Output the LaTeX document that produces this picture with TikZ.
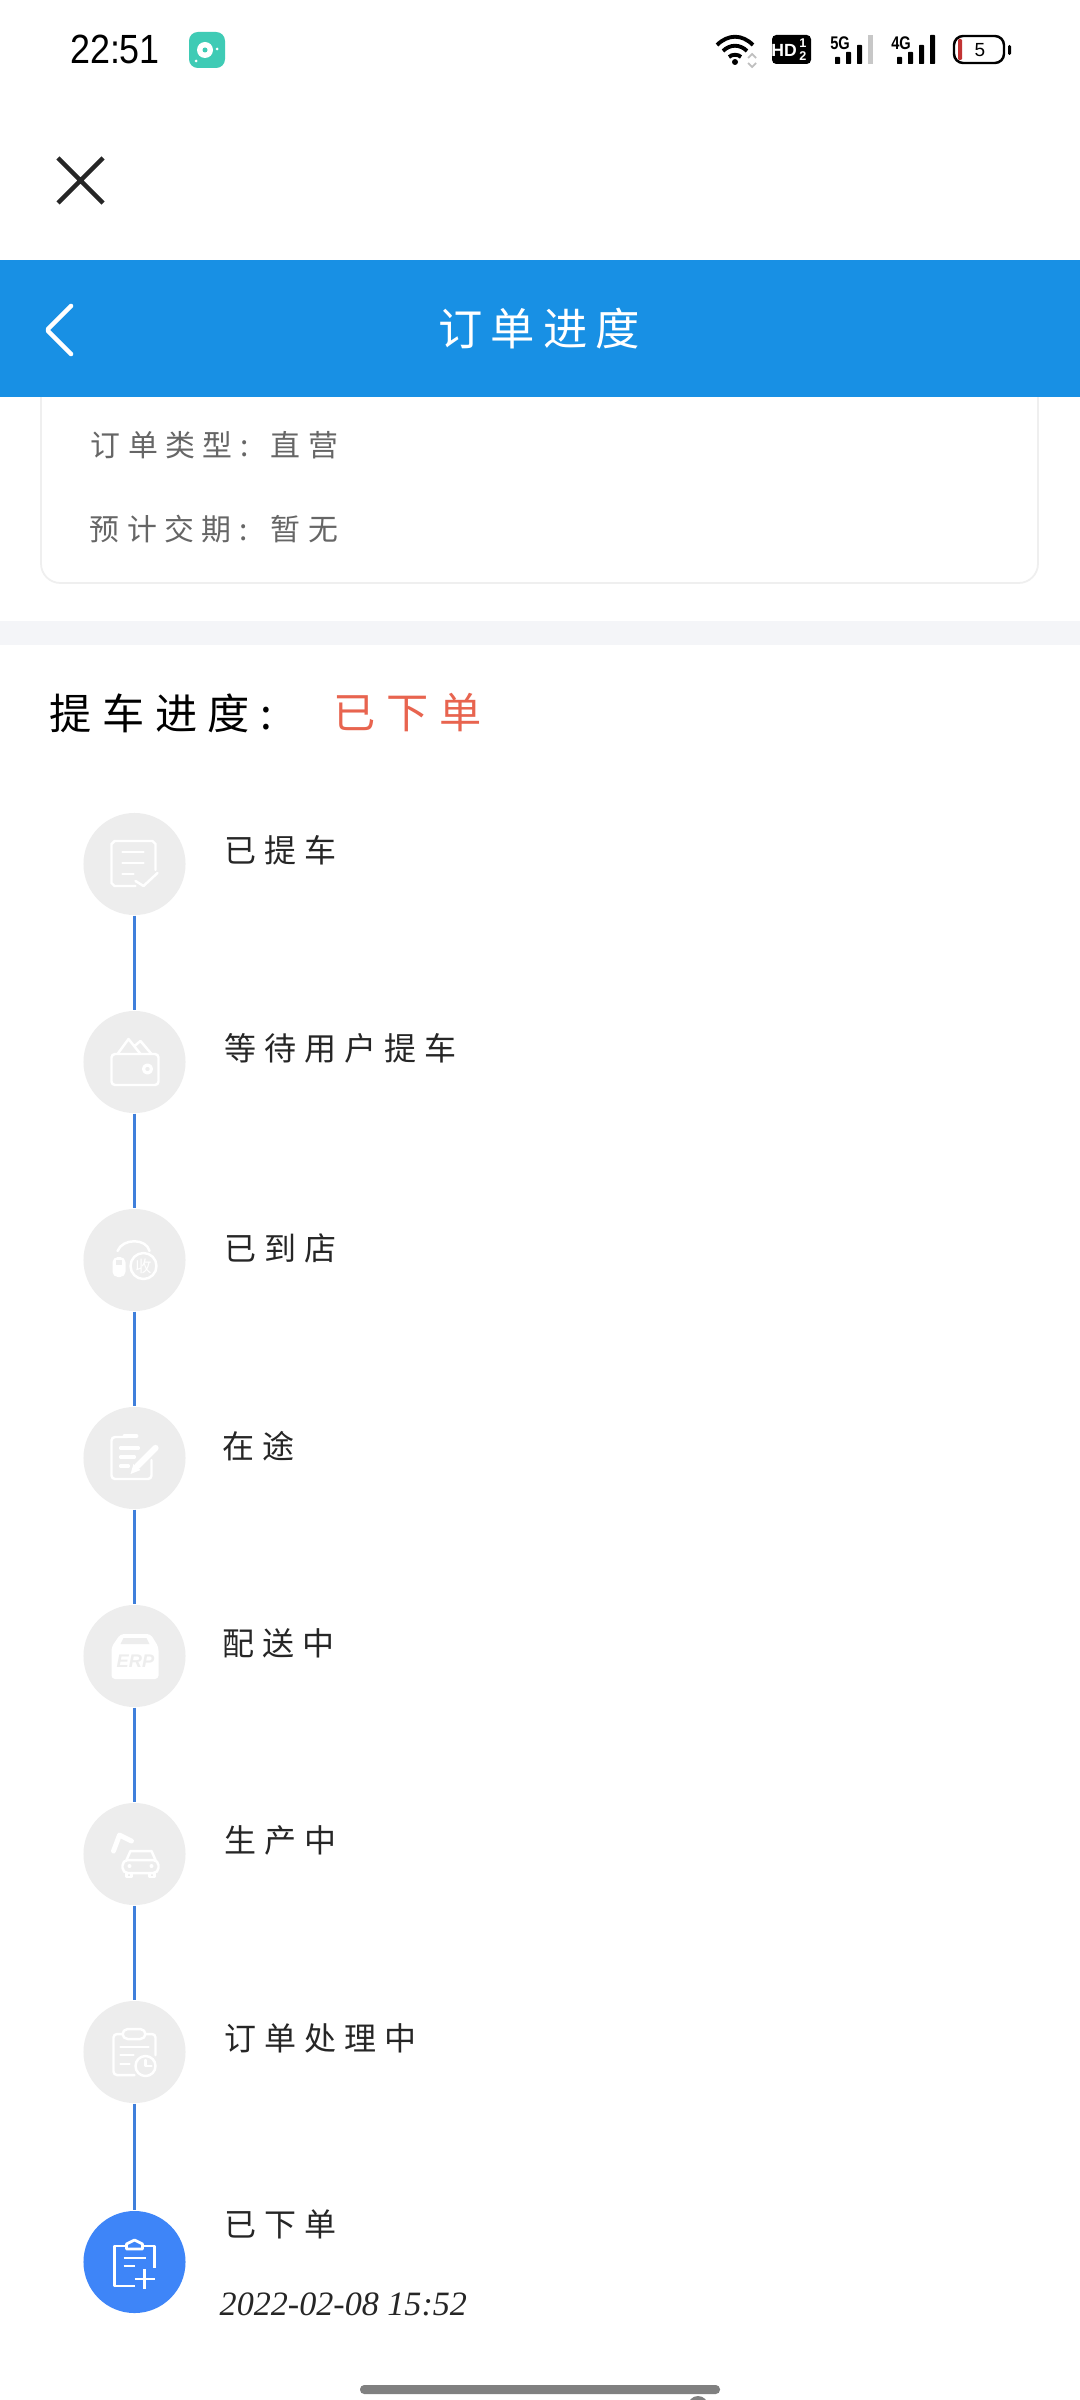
\documentclass[tikz,border=0pt]{standalone}
\usepackage{fontspec}
\setmainfont{Liberation Sans}
\newfontfamily\cjk[LetterSpace=25]{Noto Sans CJK SC}
\newfontfamily\cjktitle[LetterSpace=18]{Noto Sans CJK SC}
\newfontfamily\datefont{Liberation Serif}
\definecolor{barblue}{HTML}{1890E4}
\definecolor{linkblue}{HTML}{3F7FDB}
\definecolor{doneblue}{HTML}{3E85F8}
\definecolor{idlegray}{HTML}{EDEDED}
\definecolor{bandgray}{HTML}{F4F5F8}
\definecolor{cardgray}{HTML}{EFEFEF}
\definecolor{orderred}{HTML}{E8644F}
\definecolor{appteal}{HTML}{3FCBB5}
\tikzset{
  every node/.style={inner sep=0pt},
  stepdot/.style={circle,fill=idlegray,minimum size=102*0.2845pt},
  stepline/.style={linkblue,line width=1.1pt},
  steptext/.style={anchor=west,text=black!85,font=\cjk\fontsize{9.1}{11}\selectfont},
  cardtext/.style={anchor=west,text=black!60,font=\cjk\fontsize{8.5}{10}\selectfont},
  headtext/.style={anchor=west,font=\cjk\fontsize{12}{14}\selectfont},
  iconline/.style={white,line width=0.7pt,line cap=round,line join=round},
  barsignal/.style={fill=black,rounded corners=0.2pt},
}
\begin{document}
\begin{tikzpicture}[x=0.01cm,y=-0.01cm]
\useasboundingbox (0,0) rectangle (1080,2400);
\fill [white] (0,0) rectangle (1080,2400);
% status bar
\node (clock) at (115,49) {\scalebox{.88}[1]{\fontsize{11.6}{13}\selectfont 22:51}};
\fill [appteal,rounded corners=2.5pt] (189,32) rectangle (225,68);
\fill [white] (205,50) circle (8);
\fill [appteal] (205,50) circle (2.5);
\fill [white] (217,49) circle (1.5);
\fill [white] (196,61) circle (1.5);
\fill [black] (735,62) circle (3);
\draw [black,line width=1.1pt] (717,45) .. controls (728,34) and (742,34) .. (753,45);
\draw [black,line width=1.1pt] (723,51) .. controls (730,44) and (740,44) .. (747,51);
\draw [black,line width=1.1pt] (729,57) .. controls (732,54) and (738,54) .. (741,57);
\draw [black!25,line width=0.5pt] (748,58) -- (752,54) -- (756,58) (748,63) -- (752,67) -- (756,63);
\fill [black,rounded corners=1.2pt] (772,35) rectangle (811,64);
\node [text=white] (hdtext) at (784,50) {\fontsize{5}{6}\selectfont\bfseries HD};
\node [text=white,align=center,font=\fontsize{3.6}{3.7}\selectfont\bfseries] (hdhalf) at (803,49.5) {1\\2};
\node (fiveg) at (840,43) {\scalebox{.8}[1]{\fontsize{5.2}{6}\selectfont\bfseries 5G}};
\fill [barsignal] (835,57) rectangle (840,64);
\fill [barsignal] (846,52) rectangle (851,64);
\fill [barsignal] (857,45) rectangle (862,64);
\fill [black!22] (868,35) rectangle (873,64);
\node (fourg) at (901,43) {\scalebox{.8}[1]{\fontsize{5.2}{6}\selectfont\bfseries 4G}};
\fill [barsignal] (897,57) rectangle (902,64);
\fill [barsignal] (908,52) rectangle (913,64);
\fill [barsignal] (919,45) rectangle (924,64);
\fill [barsignal] (930,35) rectangle (935,64);
\draw [black,line width=0.7pt,rounded corners=2.6pt] (954,36) rectangle (1004,63);
\fill [black,rounded corners=0.4pt] (1008,45) rectangle (1011,55);
\fill [red!70!black!80,rounded corners=0.3pt] (958,39) rectangle (962,60);
\node (battery) at (980,50) {\fontsize{5.4}{6}\selectfont 5};
% close cross
\draw [black!85,line width=1.3pt] (58,158) -- (103,203) (103,158) -- (58,203);
% title bar
\draw [cardgray,line width=0.5pt,rounded corners=5.5pt] (41,390) -- (41,583) -- (1038,583) -- (1038,390);
\fill [barblue] (0,260) rectangle (1080,397);
\draw [white,line width=1.3pt,line cap=round,line join=round,rounded corners=0.6pt] (71,306) -- (47,330) -- (71,354);
\node [anchor=west,text=white,font=\cjktitle\fontsize{12.6}{14}\selectfont] (title) at (438,329) {订单进度};
% order card
\node [cardtext] (typekey) at (90,445) {订单类型:};
\node [cardtext] (typeval) at (270,445) {直营};
\node [cardtext] (datekey) at (89,529) {预计交期:};
\node [cardtext] (dateval) at (270,529) {暂无};
\fill [bandgray] (0,621) rectangle (1080,645);
\node [headtext,text=black] (progkey) at (49,713) {提车进度:};
\node [headtext,text=orderred] (progval) at (333,713) {已下单};
% timeline
\foreach \nm/\yy in {stepa/864,stepb/1062,stepc/1260,stepd/1458,stepe/1656,stepf/1854,stepg/2052}
  \node [stepdot] (\nm) at (134.5,\yy) {};
\node [stepdot,fill=doneblue] (steph) at (134.5,2262) {};
\foreach \from/\into in {stepa/stepb,stepb/stepc,stepc/stepd,stepd/stepe,stepe/stepf,stepf/stepg,stepg/steph}
  \draw [stepline] (\from.south) -- (\into.north);
\node [steptext] (texta) at (224,850) {已提车};
\node [steptext] (textb) at (224,1048) {等待用户提车};
\node [steptext] (textc) at (224,1248) {已到店};
\node [steptext] (textd) at (222,1446) {在途};
\node [steptext] (texte) at (222,1643) {配送中};
\node [steptext] (textf) at (224,1840) {生产中};
\node [steptext] (textg) at (224,2038) {订单处理中};
\node [steptext] (texth) at (224,2224) {已下单};
\node [anchor=west,text=black!85] (stamp) at (219,2304) {\datefont\itshape\fontsize{9.7}{11}\selectfont 2022-02-08 15:52};
% icons
\begin{scope}[shift={(stepa.center)},iconline]
\draw (1,22) -- (-20,22) -- (-23,19) -- (-23,-20) -- (-20,-23) -- (18,-23) -- (21,-20) -- (21,6);
\draw (-12,-12) -- (9,-12) (-12,-1) -- (9,-1) (-12,10) -- (-1,10);
\draw (1,17) -- (9,22) -- (23,9);
\end{scope}
\begin{scope}[shift={(stepb.center)},iconline]
\draw [rounded corners=1pt] (-23,-8) rectangle (24,23);
\draw (-17,-8) -- (-6,-23) -- (6,-8) (0,-16) -- (6,-21) -- (17,-8);
\draw [line width=0.9pt] (13,7) circle (4);
\end{scope}
\begin{scope}[shift={(stepc.center)},iconline]
\draw (-17,-9) .. controls (-12,-22) and (12,-22) .. (15,-9);
\fill [white,rounded corners=1.5pt] (-22,-3) -- (-9,-3) -- (-9,17) -- (-22,17) -- cycle;
\fill [idlegray] (-19,0) rectangle (-13,5);
\draw (9,6) circle (13);
\node [text=white,font=\cjk\fontsize{4.6}{5}\selectfont] (carmark) at (9,6) {收};
\end{scope}
\begin{scope}[shift={(stepd.center)},iconline]
\draw [rounded corners=1pt] (-7,-21) -- (-23,-21) -- (-23,21) -- (17,21) -- (17,2);
\draw [line width=1.1pt] (-10,-22) -- (2,-22);
\draw [line width=0.9pt] (-14,-10) -- (4,-10) (-14,-1) -- (0,-1) (-14,8) -- (-6,8);
\draw [line width=1.8pt] (21,-10) -- (3,8);
\fill [white] (-4,16) -- (-1,6) -- (6,12) -- cycle;
\end{scope}
\begin{scope}[shift={(stepe.center)}]
\fill [white,rounded corners=1pt] (-14,-22) -- (16,-22) -- (24,-9) -- (24,23) -- (-23,23) -- (-23,-9) -- cycle;
\fill [idlegray] (-11,-18) -- (12,-18) -- (15,-12) -- (-14,-12) -- cycle;
\node [text=idlegray,font=\bfseries\itshape\fontsize{5.2}{6}\selectfont] (boxmark) at (1,5) {ERP};
\end{scope}
\begin{scope}[shift={(stepf.center)},iconline]
\draw [line width=1.4pt] (-21,-3) -- (-15,-19) -- (-3,-13);
\draw (-8,6) -- (-4,-3) -- (17,-3) -- (21,6);
\draw [rounded corners=1.5pt] (-12,6) rectangle (24,19);
\draw (-8,19) -- (-8,23) -- (-3,23) -- (-3,19) (15,19) -- (15,23) -- (20,23) -- (20,19);
\fill [white] (-5,12) circle (2) (17,12) circle (2);
\end{scope}
\begin{scope}[shift={(stepg.center)},iconline]
\draw [rounded corners=1pt] (-12,-18) -- (-21,-18) -- (-21,23) -- (0,23);
\draw [rounded corners=1pt] (11,-18) -- (21,-18) -- (21,3);
\draw [rounded corners=1.5pt] (-12,-23) rectangle (11,-13);
\draw (-14,-5) -- (14,-5) (-14,3) -- (-1,3) (-14,12) -- (-5,12);
\draw (11,14) circle (10);
\draw (11,8) -- (11,14) -- (17,14);
\end{scope}
\begin{scope}[shift={(steph.center)},iconline,line width=0.8pt,line cap=butt]
\draw (-8,-16) -- (-20,-16) -- (-20,24) -- (0,24);
\draw (8,-16) -- (20,-16) -- (20,6);
\draw (-8,-13) -- (-8,-18) -- (0,-22) -- (8,-18) -- (8,-13) -- cycle;
\draw (-11,-4) -- (11,-4) (-11,4) -- (0,4);
\draw (10,7) -- (10,27) (0,17) -- (20,17);
\end{scope}
% home indicator
\fill [black!50,rounded corners=1.2pt] (360,2385) rectangle (720,2394);
\fill [black!50] (698,2406) circle (10);
\end{tikzpicture}
\end{document}
